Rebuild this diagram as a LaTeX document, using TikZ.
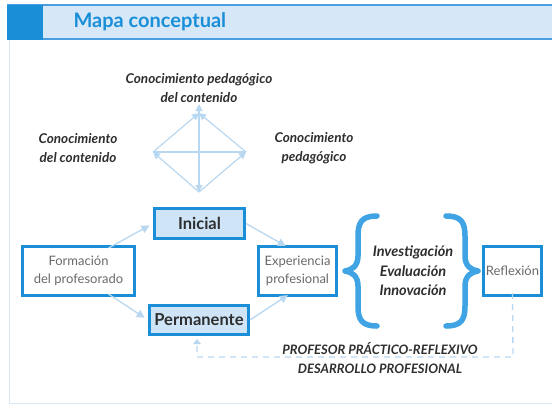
\documentclass[tikz,border=0pt]{standalone}
\usepackage{fontspec}
\setmainfont{Lato}
\usetikzlibrary{arrows.meta}
\definecolor{blueD}{HTML}{1A8FD8}
\definecolor{hdrfill}{HTML}{D6E8F7}
\definecolor{hdrline}{HTML}{4A9FE0}
\definecolor{boxfill}{HTML}{CFE4F6}
\definecolor{arrc}{HTML}{B8D7F1}
\definecolor{framec}{HTML}{D8E9F7}
\definecolor{bracec}{HTML}{3FA3E4}
\definecolor{txtg}{HTML}{6A6A6A}
\definecolor{txtd}{HTML}{2E2E2E}
\tikzset{
  bluebox/.style={draw=blueD, line width=3pt, inner sep=0pt, align=center},
  plainbox/.style={bluebox, fill=white, font=\fontsize{13}{17.5}\selectfont, text=txtg},
  filledbox/.style={bluebox, fill=boxfill, font=\bfseries\fontsize{16.5}{18}\selectfont, text=txtd},
  itxt/.style={align=center, font=\bfseries\itshape\fontsize{13.5}{18.5}\selectfont, text=txtd},
  arr/.style={draw=arrc, line width=1.3pt, -{Triangle[length=8pt,width=8pt]}},
  dia/.style={draw=arrc, line width=1.2pt},
  diaarr/.style={dia, -{Triangle[length=7pt,width=7pt]}},
  brace/.style={draw=bracec, line width=5.5pt, line cap=round, line join=round},
  dashline/.style={draw=arrc, line width=1.3pt, dash pattern=on 6pt off 5pt}
}
\begin{document}
\begin{tikzpicture}[x=1pt,y=-1pt]
\useasboundingbox (0,0) rectangle (552,405);
% header
\fill[hdrfill] (7,5) rectangle (552,39);
\draw[hdrline, line width=1.3pt] (7,5) -- (552,5);
\draw[hdrline, line width=1.3pt] (7,39) -- (552,39);
\fill[blueD] (7,4.5) rectangle (43,39.5);
\node[anchor=west, text=blueD, font=\bfseries\fontsize{20}{22}\selectfont] (title) at (70,22) {Mapa conceptual};
% frame
\draw[framec, line width=1pt] (9,40) -- (9,403) -- (552,403);
% top texts
\node[itxt] (cpc) at (199,88) {Conocimiento pedagógico\\del contenido};
\node[itxt] (cc) at (78,148) {Conocimiento\\del contenido};
\node[itxt] (cp) at (314,148) {Conocimiento\\pedagógico};
% diamond
\coordinate (dt) at (199,113);
\coordinate (dl) at (153,152);
\coordinate (dr) at (246,152);
\coordinate (db) at (199,192);
\coordinate (dc) at (199,152);
\draw[dia] (dl) -- (dr);
\draw[diaarr] (dl) -- (dt);
\draw[diaarr] (dr) -- (dt);
\draw[diaarr] (db) -- (dl);
\draw[diaarr] (db) -- (dr);
\draw[diaarr] (dc) -- ([yshift=9pt]dt);
\draw[diaarr] (dc) -- (db);
% boxes
\node[filledbox, minimum width=90pt, minimum height=30pt] (ini) at (199.5,223.5) {Inicial};
\node[filledbox, minimum width=99pt, minimum height=29pt] (perm) at (199,320) {Permanente};
\node[plainbox, minimum width=112pt, minimum height=49pt] (form) at (78.5,271) {Formación\\del profesorado};
\node[plainbox, minimum width=78pt, minimum height=49pt] (exp) at (297.5,271) {Experiencia\\profesional};
\node[plainbox, minimum width=58pt, minimum height=49pt] (refl) at (512.5,271) {Reflexión};
% arrows
\draw[arr, shorten >=4pt] ([xshift=30pt,yshift=-3pt]form.north) -- (ini.west);
\draw[arr, shorten >=4pt] ([xshift=30pt,yshift=3pt]form.south) -- (perm.west);
\draw[arr, shorten >=2pt] (ini.east) -- ([xshift=-10pt,yshift=-2pt]exp.north);
\draw[arr, shorten >=2pt] (perm.east) -- ([xshift=-8pt,yshift=3pt]exp.south);
% braces
\draw[brace] (377,216) .. controls (362,216) and (358,222) .. (358,236) -- (358,256) .. controls (358,266) and (352,270) .. (345,271) .. controls (352,272) and (358,276) .. (358,286) -- (358,306) .. controls (358,320) and (362,326) .. (377,326);
\draw[brace] (446,216) .. controls (461,216) and (465,222) .. (465,236) -- (465,256) .. controls (465,266) and (471,270) .. (478,271) .. controls (471,272) and (465,276) .. (465,286) -- (465,306) .. controls (465,320) and (461,326) .. (446,326);
\node[itxt, font=\bfseries\itshape\fontsize{14.5}{19.5}\selectfont] (iei) at (413,271) {Investigación\\Evaluación\\Innovación};
% dashed feedback
\coordinate (dc1) at (513,357);
\coordinate (dc2) at (197,357);
\coordinate (dend) at (197,343);
\draw[dashline] ([yshift=4pt]refl.south) -- (dc1) -- (dc2) -- (dend);
\draw[draw=none, fill=arrc] (dend) ++(0,-4) -- ++(4,5) -- ++(-8,0) -- cycle;
% bottom texts
\node[itxt, font=\bfseries\itshape\fontsize{13}{18}\selectfont] (ppr) at (380,348) {PROFESOR PRÁCTICO-REFLEXIVO};
\node[itxt, font=\bfseries\itshape\fontsize{13}{18}\selectfont] (dp) at (380,369) {DESARROLLO PROFESIONAL};
\end{tikzpicture}
\end{document}
